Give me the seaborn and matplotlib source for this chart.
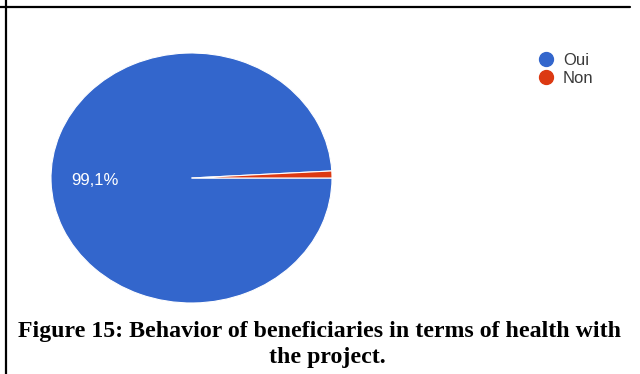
import matplotlib
matplotlib.use("Agg")
import matplotlib.pyplot as plt
from matplotlib.lines import Line2D
import seaborn as sns

labels = ["Oui", "Non"]
values = [99.1, 0.9]
colors = ["#3366CC", "#DC3912"]
caption_lines = ["Figure 15: Behavior of beneficiaries in terms of health with", "the project."]

sns.set_theme(style="white")
plt.rcParams['font.family'] = ['Liberation Sans', 'DejaVu Sans']

W, H = 640, 374
fig = plt.figure(figsize=(W / 100, H / 100), dpi=100)
fig.patch.set_facecolor("white")

# pie axes (elliptical, as in the reference)
ax = fig.add_axes([51 / W, (H - 303) / H, 281 / W, 250 / H])
wedges, texts, autotexts = ax.pie(
    values, colors=colors, startangle=0, counterclock=False,
    autopct=lambda p: (f"{p:.1f}%".replace(".", ",") if p > 5 else ""),
    pctdistance=0.69,
    wedgeprops=dict(edgecolor="white", linewidth=0.8),
    textprops=dict(color="white", fontsize=12),
)
ax.set_aspect("auto")
ax.set_xlim(-1, 1)
ax.set_ylim(-1, 1)
ax.axis("off")

# legend
handles = [Line2D([0], [0], marker="o", linestyle="", markersize=10,
                  markerfacecolor=c, markeredgecolor=c) for c in colors]
fig.legend(handles, labels, loc="upper left",
           bbox_to_anchor=(538 / W, (H - 53) / H), bbox_transform=fig.transFigure,
           frameon=False, fontsize=12, labelcolor="#3a3a3a",
           handlelength=1.0, handletextpad=0.5, labelspacing=0.2,
           borderpad=0, borderaxespad=0)

# caption
cap_font = dict(fontsize=17.2, fontweight="bold", family=["Liberation Serif"], color="black")
fig.text(320 / W, (H - 337) / H, caption_lines[0], ha="center", va="baseline", **cap_font)
fig.text(327 / W, (H - 363) / H, caption_lines[1], ha="center", va="baseline", **cap_font)

# table-cell borders
fig.add_artist(Line2D([0, 630 / W], [(H - 7) / H, (H - 7) / H], transform=fig.transFigure,
                      color="black", linewidth=1.6))
fig.add_artist(Line2D([6 / W, 6 / W], [0, 1], transform=fig.transFigure,
                      color="black", linewidth=1.6))

fig.savefig("out.png", dpi=100, facecolor="white")
